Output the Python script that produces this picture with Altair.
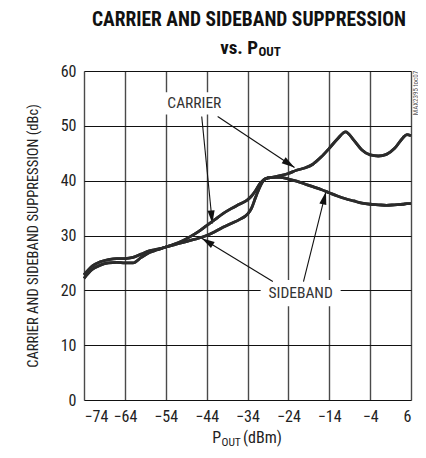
import math
import altair as alt
import pandas as pd

# ---------------- data ----------------
x_vals = [-74, -72, -70, -68, -66, -64, -62, -60, -58, -56, -54, -52, -50, -48, -46,
          -44, -42, -40, -38, -36, -34, -33, -32, -31, -30, -29, -28, -26, -24, -22,
          -20, -18, -16, -14, -12, -10, -8, -6, -4, -2, 0, 2, 4, 5, 6]
carrier = [22.8, 24.4, 25.2, 25.6, 25.8, 25.8, 26.0, 26.6, 27.2, 27.5, 27.9, 28.4, 29.0, 29.8, 30.7,
           31.8, 32.9, 34.0, 34.9, 35.7, 36.5, 37.2, 38.2, 39.4, 40.2, 40.5, 40.6, 40.9, 41.3, 41.9,
           42.3, 43.0, 44.3, 45.9, 47.6, 48.9, 47.4, 45.6, 44.7, 44.5, 44.8, 45.9, 47.8, 48.4, 48.2]
sideband = [22.2, 23.8, 24.6, 25.0, 25.1, 25.0, 25.0, 26.0, 26.9, 27.4, 27.9, 28.3, 28.7, 29.1, 29.5,
            30.0, 30.7, 31.5, 32.2, 32.9, 33.9, 35.0, 37.0, 38.8, 40.1, 40.5, 40.6, 40.6, 40.3, 39.9,
            39.4, 38.9, 38.4, 37.8, 37.2, 36.7, 36.3, 35.9, 35.7, 35.6, 35.5, 35.6, 35.7, 35.8, 35.8]

x_ticks = [-74, -64, -54, -44, -34, -24, -14, -4, 6]
y_ticks = [0, 10, 20, 30, 40, 50, 60]

label_text = ["CARRIER", "SIDEBAND"]
label_x = [-47.0, -21.0]
label_y = [54.1, 19.5]

arrow_x1 = [-45.2, -41.3, -27.8, -20.3]
arrow_y1 = [51.7, 51.7, 21.6, 21.6]
arrow_x2 = [-42.6, -22.5, -45.2, -14.8]
arrow_y2 = [32.2, 42.4, 29.5, 38.0]

# ---------------- layout ----------------
W = 327
H = 329
XMIN, XMAX = -74, 6
YMIN, YMAX = 0, 60
PX_X = W / (XMAX - XMIN)
PX_Y = H / (YMAX - YMIN)

FONT = "Liberation Sans Narrow, Roboto Condensed, DejaVu Sans Condensed, Arial Narrow, sans-serif"
INK = "#2b2b2b"

curves = pd.DataFrame({
    "x": x_vals * 2,
    "y": carrier + sideband,
    "series": ["Carrier"] * len(x_vals) + ["Sideband"] * len(x_vals),
})

labels = pd.DataFrame({"t": label_text, "x": label_x, "y": label_y})

# arrowheads: screen-space angle, backed off half a head length from the tip
HEAD_LEN = 13.0
heads = []
for x1, y1, x2, y2 in zip(arrow_x1, arrow_y1, arrow_x2, arrow_y2):
    dx = (x2 - x1) * PX_X
    dy = -(y2 - y1) * PX_Y
    L = math.hypot(dx, dy)
    ux, uy = dx / L, dy / L
    ang = math.degrees(math.atan2(ux, -uy)) % 360
    hx = x2 - ux * (HEAD_LEN / 2) / PX_X
    hy = y2 + uy * (HEAD_LEN / 2) / PX_Y
    heads.append({"x": hx, "y": hy, "angle": ang})
heads = pd.DataFrame(heads)
arrows = pd.DataFrame({"x": arrow_x1, "y": arrow_y1, "x2": arrow_x2, "y2": arrow_y2})

xs = alt.Scale(domain=[XMIN, XMAX], nice=False, zero=False)
ys = alt.Scale(domain=[YMIN, YMAX], nice=False, zero=False)

x_axis = alt.Axis(values=x_ticks, title=None, ticks=False, domain=False, grid=True,
                  gridColor="#4a4a4a", gridWidth=1.4, labelFontSize=16, labelPadding=8,
                  labelColor="#222", labelFont=FONT, format="d")
y_axis = alt.Axis(values=y_ticks, title="CARRIER AND SIDEBAND SUPPRESSION (dBc)",
                  ticks=False, domain=False, grid=True, gridColor="#111", gridWidth=1.1,
                  labelFontSize=16, labelPadding=8, labelColor="#222", labelFont=FONT,
                  titleFont=FONT, titleFontSize=14.5, titleFontWeight="normal",
                  titleColor="#222", titlePadding=20)

lines = alt.Chart(curves).mark_line(strokeWidth=2.8, color=INK, interpolate="monotone").encode(
    x=alt.X("x:Q", scale=xs, axis=x_axis),
    y=alt.Y("y:Q", scale=ys, axis=y_axis),
    detail="series:N",
)

BOX_C = "M-1,-0.34L1,-0.34L1,0.34L-1,0.34Z"
BOX_S = "M-1,-0.33L1,-0.33L1,0.33L-1,0.33Z"
box_c = alt.Chart(labels.iloc[[0]]).mark_point(shape=BOX_C, size=66 * 66, filled=True,
                                                 fill="white", opacity=1, strokeWidth=0).encode(
    x=alt.X("x:Q", scale=xs), y=alt.Y("y:Q", scale=ys))
box_s = alt.Chart(labels.iloc[[1]]).mark_point(shape=BOX_S, size=80 * 80, filled=True,
                                                 fill="white", opacity=1, strokeWidth=0).encode(
    x=alt.X("x:Q", scale=xs), y=alt.Y("y:Q", scale=ys))

arrow_lines = alt.Chart(arrows).mark_rule(color="#111", strokeWidth=1.1).encode(
    x=alt.X("x:Q", scale=xs), y=alt.Y("y:Q", scale=ys), x2="x2:Q", y2="y2:Q")

HEAD = "M0,-1L0.55,1L-0.55,1Z"
arrow_heads = alt.Chart(heads).mark_point(shape=HEAD, size=HEAD_LEN * HEAD_LEN, filled=True,
                                          color="#111", opacity=1).encode(
    x=alt.X("x:Q", scale=xs), y=alt.Y("y:Q", scale=ys), angle=alt.Angle("angle:Q", scale=None))

label_text_layer = alt.Chart(labels).mark_text(font=FONT, fontSize=15.5, color="#333",
                                               baseline="middle", align="center").encode(
    x=alt.X("x:Q", scale=xs), y=alt.Y("y:Q", scale=ys), text="t:N")


def txt(s, x, y, size, weight="normal", align="left", color="#222", angle=0, baseline="alphabetic"):
    return alt.Chart(pd.DataFrame({"t": [s]})).mark_text(
        font=FONT, fontSize=size, fontWeight=weight, align=align, color=color,
        angle=angle, baseline=baseline).encode(
        x=alt.value(x), y=alt.value(y), text="t:N")


title1 = txt("CARRIER AND SIDEBAND SUPPRESSION", 165, -45, 19.5, weight="bold", align="center", color="#111")
title2a = txt("vs. P", 174, -17, 19, weight="bold", align="right", color="#111")
title2b = txt("OUT", 174.5, -15, 13, weight="bold", align="left", color="#111")

xt_a = txt("P", 137, H + 43, 16, align="right")
xt_b = txt("OUT", 137.5, H + 46, 11.5, align="left")
xt_c = txt("(dBm)", 159, H + 43, 16, align="left")

code = txt("MAX2395 toc07", W + 4.5, 22, 7, align="center", color="#555", angle=270, baseline="middle")

chart = alt.layer(
    lines, box_c, box_s, arrow_lines, arrow_heads, lines, label_text_layer,
    title1, title2a, title2b, xt_a, xt_b, xt_c, code,
).properties(
    width=W, height=H,
    autosize=alt.AutoSizeParams(type="none"),
    padding={"left": 76, "top": 63, "right": 7, "bottom": 52},
).configure_view(
    stroke="#000", strokeWidth=2.8,
).configure(background="white")

chart.save("out.html", embed_options={"renderer": "svg", "actions": False})
